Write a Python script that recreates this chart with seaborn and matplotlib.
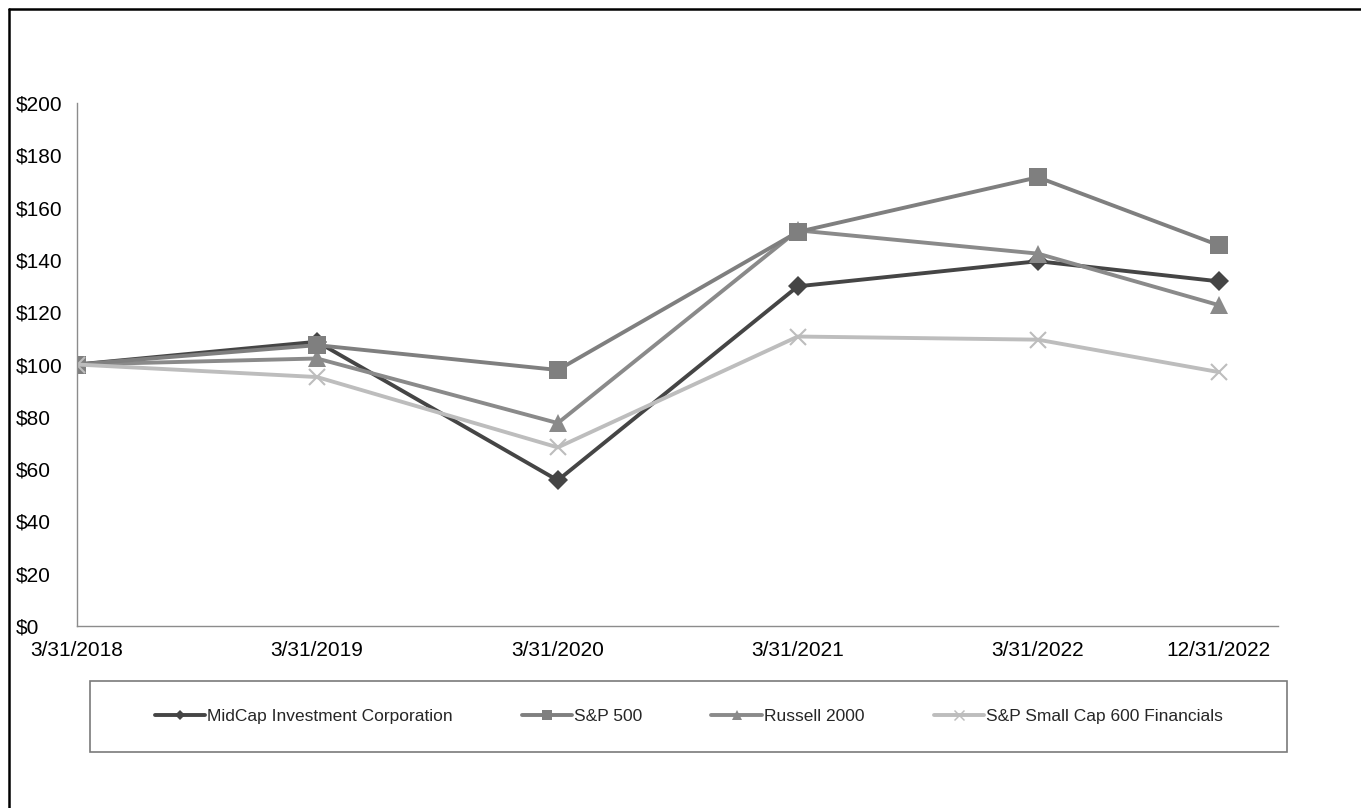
import matplotlib
matplotlib.use("Agg")
import matplotlib.pyplot as plt
from matplotlib.lines import Line2D
from matplotlib.patches import Rectangle
import seaborn as sns
import pandas as pd

sns.set_theme(style="white")
plt.rcParams["font.family"] = ["Liberation Sans", "DejaVu Sans"]

dates = ["2018-03-31", "2019-03-31", "2020-03-31", "2021-03-31", "2022-03-31", "2022-12-31"]
date_labels = ["3/31/2018", "3/31/2019", "3/31/2020", "3/31/2021", "3/31/2022", "12/31/2022"]

midcap = [100, 108.7, 55.7, 129.9, 139.5, 131.8]
sp500 = [100, 107.4, 97.9, 150.7, 171.6, 145.6]
russell = [100, 102.3, 77.6, 151.3, 142.4, 122.7]
smallcap_fin = [100, 95.2, 68.3, 110.7, 109.5, 97.1]

y_ticks = list(range(0, 201, 20))

series = {
    "MidCap Investment Corporation": dict(values=midcap, color="#454545", marker="D", ms=10, mew=0),
    "S&P 500": dict(values=sp500, color="#7f7f7f", marker="s", ms=12.5, mew=0),
    "Russell 2000": dict(values=russell, color="#8a8a8a", marker="^", ms=13, mew=0),
    "S&P Small Cap 600 Financials": dict(values=smallcap_fin, color="#bdbdbd", marker="x", ms=12, mew=1.5),
}
legend_order = ["MidCap Investment Corporation", "S&P 500", "Russell 2000", "S&P Small Cap 600 Financials"]
draw_order = ["MidCap Investment Corporation", "Russell 2000", "S&P 500", "S&P Small Cap 600 Financials"]

x = pd.to_datetime(dates)

fig = plt.figure(figsize=(13.61, 8.08), dpi=100)
ax = fig.add_axes([77 / 1361, 1 - 626 / 808, (1278 - 77) / 1361, (626 - 103) / 808])

for name in draw_order:
    s = series[name]
    df = pd.DataFrame({"date": x, "value": s["values"]})
    sns.lineplot(data=df, x="date", y="value", ax=ax, color=s["color"], linewidth=2.8,
                 marker=s["marker"], markersize=s["ms"], markeredgewidth=s["mew"],
                 markeredgecolor=s["color"], markerfacecolor=s["color"], legend=False)

ax.set_xlim(pd.Timestamp("2018-03-31"), pd.Timestamp("2023-03-31"))
ax.set_ylim(0, 200)
ax.set_yticks(y_ticks)
ax.set_yticklabels([f"${v}" for v in y_ticks], ha="left")
ax.set_xticks(x)
ax.set_xticklabels(date_labels)
ax.set_xlabel("")
ax.set_ylabel("")
ax.tick_params(axis="y", length=0, pad=44, labelsize=15, labelcolor="black")
ax.tick_params(axis="x", length=0, pad=11, labelsize=15, labelcolor="black")

for side in ["top", "right"]:
    ax.spines[side].set_visible(False)
for side in ["left", "bottom"]:
    ax.spines[side].set_color("#8c8c8c")
    ax.spines[side].set_linewidth(1.0)

handles = []
for name in legend_order:
    s = series[name]
    handles.append(Line2D([], [], color=s["color"], linewidth=2.8, marker=s["marker"],
                          markersize=s["ms"] * 0.55, markeredgewidth=s["mew"] * 0.7,
                          markeredgecolor=s["color"], markerfacecolor=s["color"]))
fig.legend(handles, legend_order, loc="center", bbox_to_anchor=(688.5 / 1361, 1 - 716 / 808),
           ncol=4, frameon=False, fontsize=12.5, handlelength=2.9, handletextpad=0.1,
           columnspacing=4.0)

# legend box
fig.add_artist(Rectangle((90 / 1361, 1 - 752 / 808), (1287 - 90) / 1361, (752 - 681) / 808,
                         transform=fig.transFigure, fill=False, edgecolor="#7a7a7a", linewidth=1.2))

# outer frame (top and left edges)
fig.add_artist(Line2D([9 / 1361, 1.0], [1 - 9 / 808, 1 - 9 / 808], transform=fig.transFigure,
                      color="black", linewidth=1.8))
fig.add_artist(Line2D([9 / 1361, 9 / 1361], [0.0, 1 - 9 / 808], transform=fig.transFigure,
                      color="black", linewidth=1.8))

fig.savefig("out.png", dpi=100)
